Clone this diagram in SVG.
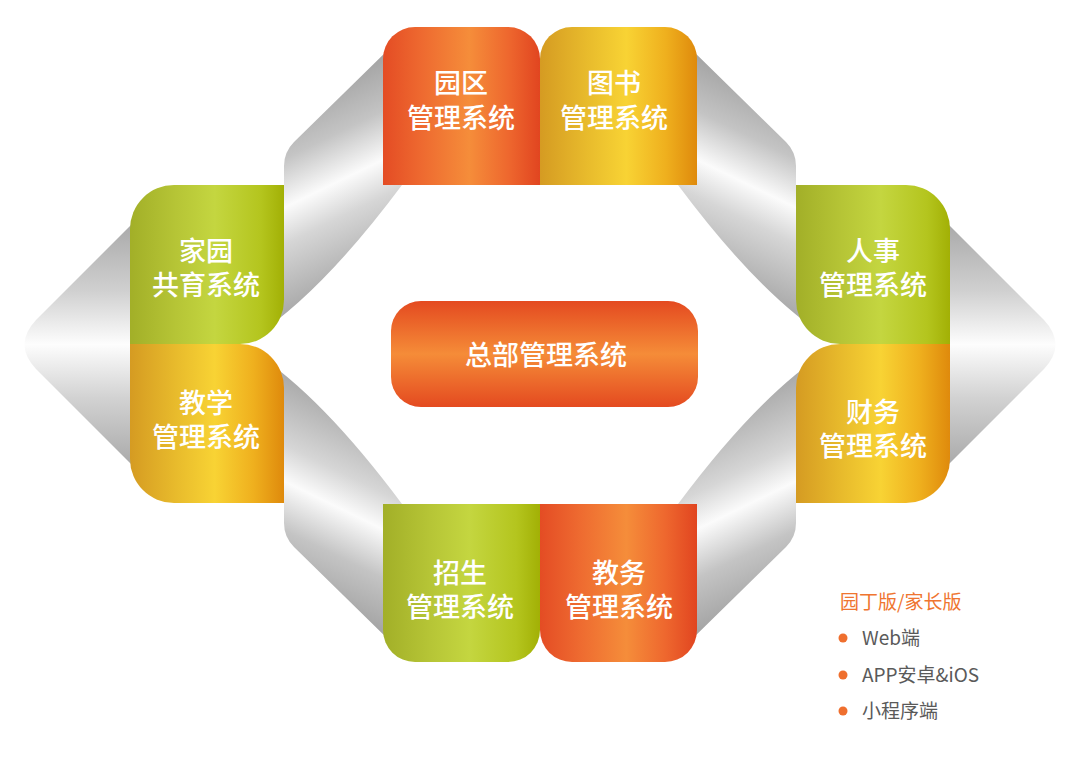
<svg xmlns="http://www.w3.org/2000/svg" xmlns:xlink="http://www.w3.org/1999/xlink" width="1080" height="766" viewBox="0 0 1080 766">
<style>
.t{fill:#ffffff;font-family:"Noto Sans CJK SC","Noto Sans",sans-serif;font-size:27px;font-weight:500;text-anchor:middle;}
.lg{font-family:"Noto Sans CJK SC","Noto Sans",sans-serif;font-size:19px;}
.lt{fill:#ef7530;}
.li{fill:#5a5a5a;}
.dot{fill:#ef6f2e;}
</style>
<defs>
<linearGradient id="gOr" x1="0" y1="0" x2="1" y2="0">
<stop offset="0" stop-color="#e44c24"/>
<stop offset="0.25" stop-color="#ee6a30"/>
<stop offset="0.55" stop-color="#f58d3a"/>
<stop offset="0.8" stop-color="#ee672e"/>
<stop offset="1" stop-color="#e14520"/>
</linearGradient>
<linearGradient id="gYe" x1="0" y1="0" x2="1" y2="0">
<stop offset="0" stop-color="#d59b22"/>
<stop offset="0.3" stop-color="#e8bb2c"/>
<stop offset="0.55" stop-color="#f8d334"/>
<stop offset="0.8" stop-color="#efb01e"/>
<stop offset="1" stop-color="#df8a0c"/>
</linearGradient>
<linearGradient id="gGr" x1="0" y1="0" x2="1" y2="0">
<stop offset="0" stop-color="#a2af28"/>
<stop offset="0.3" stop-color="#b6c536"/>
<stop offset="0.55" stop-color="#c4d640"/>
<stop offset="0.85" stop-color="#b4c51e"/>
<stop offset="1" stop-color="#a2b005"/>
</linearGradient>
<linearGradient id="gCenter" x1="0" y1="0" x2="0" y2="1">
<stop offset="0" stop-color="#e44a20"/>
<stop offset="0.5" stop-color="#f58c38"/>
<stop offset="1" stop-color="#e44a20"/>
</linearGradient>
<linearGradient id="gRib" gradientUnits="userSpaceOnUse" x1="287" y1="84" x2="383" y2="282">
<stop offset="0" stop-color="#9a9a9a"/>
<stop offset="0.3" stop-color="#c4c4c4"/>
<stop offset="0.5" stop-color="#fbfbfb"/>
<stop offset="0.65" stop-color="#d6d6d6"/>
<stop offset="1" stop-color="#a0a0a0"/>
</linearGradient>
<linearGradient id="gArr" gradientUnits="userSpaceOnUse" x1="0" y1="211" x2="0" y2="478">
<stop offset="0" stop-color="#a2a2a2"/>
<stop offset="0.3" stop-color="#d0d0d0"/>
<stop offset="0.5" stop-color="#fdfdfd"/>
<stop offset="0.7" stop-color="#d2d2d2"/>
<stop offset="1" stop-color="#a2a2a2"/>
</linearGradient>
<path id="ribbon" d="M 284 300 L 284 166 Q 284 152 294 142 L 392 46 L 392 185 L 402 185 Q 320 295 252 338 Z" fill="url(#gRib)"/>
<path id="arrow" d="M 145 211 L 36 320 Q 13 344.5 36 369 L 145 478 Z" fill="url(#gArr)"/>
</defs>

<g id="connectors">
<use xlink:href="#arrow"/>
<use xlink:href="#arrow" transform="matrix(-1,0,0,1,1080,0)"/>
<use xlink:href="#ribbon"/>
<use xlink:href="#ribbon" transform="matrix(-1,0,0,1,1080,0)"/>
<use xlink:href="#ribbon" transform="matrix(1,0,0,-1,0,689)"/>
<use xlink:href="#ribbon" transform="matrix(-1,0,0,-1,1080,689)"/>
</g>

<g id="node-yuanqu">
<path d="M 383 185 L 383 59 A 32 32 0 0 1 415 27 L 508 27 A 32 32 0 0 1 540 59 L 540 185 Z" fill="url(#gOr)"/>
<text class="t"><tspan x="461" y="93">园区</tspan><tspan x="461" y="128">管理系统</tspan></text>
</g>
<g id="node-tushu">
<path d="M 540 185 L 540 59 A 32 32 0 0 1 572 27 L 665 27 A 32 32 0 0 1 697 59 L 697 185 Z" fill="url(#gYe)"/>
<text class="t"><tspan x="614" y="93">图书</tspan><tspan x="614" y="128">管理系统</tspan></text>
</g>
<g id="node-jiayuan">
<path d="M 130 344 L 130 229 A 44 44 0 0 1 174 185 L 284 185 L 284 300 A 44 44 0 0 1 240 344 Z" fill="url(#gGr)"/>
<text class="t"><tspan x="206" y="261">家园</tspan><tspan x="206" y="295">共育系统</tspan></text>
</g>
<g id="node-jiaoxue">
<path d="M 130 344 L 240 344 A 44 44 0 0 1 284 388 L 284 503 L 174 503 A 44 44 0 0 1 130 459 Z" fill="url(#gYe)"/>
<text class="t"><tspan x="206" y="413">教学</tspan><tspan x="206" y="447">管理系统</tspan></text>
</g>
<g id="node-renshi">
<path d="M 796 185 L 906 185 A 44 44 0 0 1 950 229 L 950 344 L 840 344 A 44 44 0 0 1 796 300 Z" fill="url(#gGr)"/>
<text class="t"><tspan x="873" y="261">人事</tspan><tspan x="873" y="295">管理系统</tspan></text>
</g>
<g id="node-caiwu">
<path d="M 796 388 A 44 44 0 0 1 840 344 L 950 344 L 950 459 A 44 44 0 0 1 906 503 L 796 503 Z" fill="url(#gYe)"/>
<text class="t"><tspan x="873" y="422">财务</tspan><tspan x="873" y="456">管理系统</tspan></text>
</g>
<g id="node-zhaosheng">
<path d="M 383 504 L 540 504 L 540 630 A 32 32 0 0 1 508 662 L 415 662 A 32 32 0 0 1 383 630 Z" fill="url(#gGr)"/>
<text class="t"><tspan x="460" y="583">招生</tspan><tspan x="460" y="617">管理系统</tspan></text>
</g>
<g id="node-jiaowu">
<path d="M 540 504 L 697 504 L 697 630 A 32 32 0 0 1 665 662 L 572 662 A 32 32 0 0 1 540 630 Z" fill="url(#gOr)"/>
<text class="t"><tspan x="619" y="583">教务</tspan><tspan x="619" y="617">管理系统</tspan></text>
</g>
<g id="node-center">
<rect x="391" y="301" width="307" height="106" rx="30" ry="30" fill="url(#gCenter)"/>
<text class="t" x="546" y="365">总部管理系统</text>
</g>

<g id="legend">
<text class="lg lt" x="840" y="609">园丁版/家长版</text>
<circle class="dot" cx="843" cy="638" r="4.5"/>
<text class="lg li" x="862" y="645">Web端</text>
<circle class="dot" cx="843" cy="675" r="4.5"/>
<text class="lg li" x="862" y="682">APP安卓&amp;iOS</text>
<circle class="dot" cx="843" cy="711" r="4.5"/>
<text class="lg li" x="862" y="718">小程序端</text>
</g>
</svg>
